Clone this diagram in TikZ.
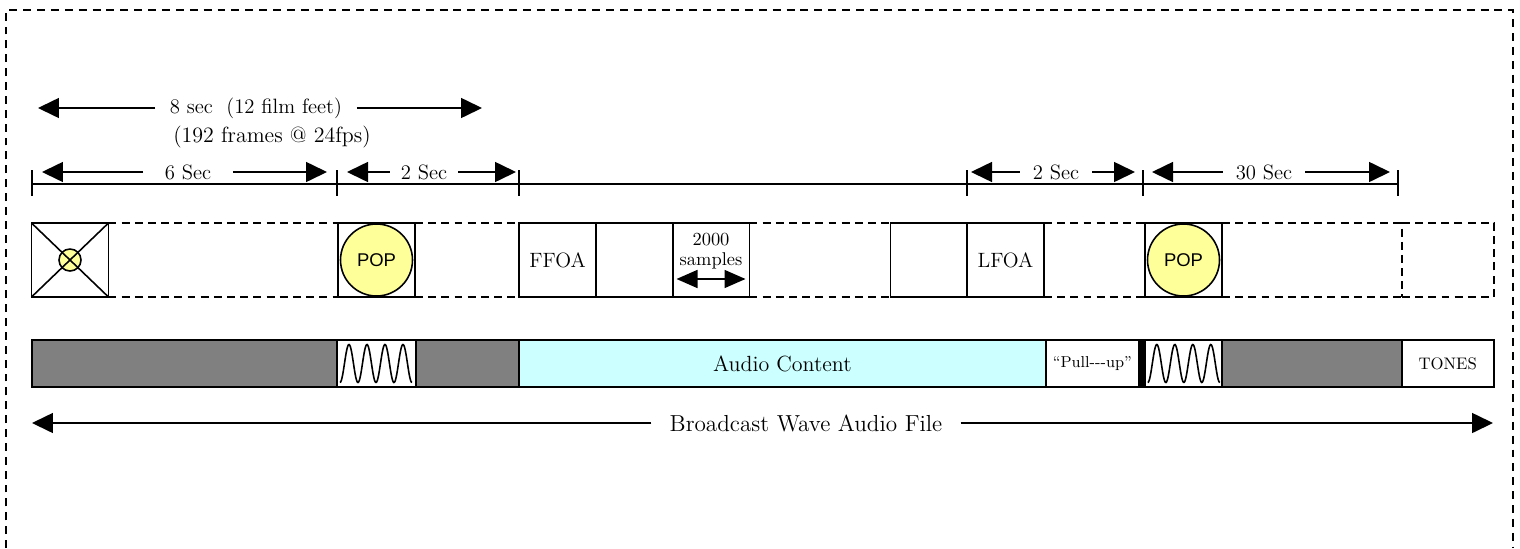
\documentclass[tikz,border=0pt]{standalone}
\usepackage{fontspec}
\newfontfamily\popfont{Liberation Sans}
\usetikzlibrary{arrows.meta,positioning}

\definecolor{popyellow}{RGB}{255,255,153}
\definecolor{audiocyan}{RGB}{204,255,255}
\definecolor{leadgray}{RGB}{128,128,128}

\tikzset{
  frm/.style={draw, minimum width=1.54cm, minimum height=1.48cm, inner sep=0pt, outer sep=0pt},
  bar/.style={draw, minimum height=0.94cm, inner sep=0pt, outer sep=0pt},
  dimarr/.style={-{Triangle[length=0.42cm,width=0.4cm]}},
  duoarr/.style={{Triangle[length=0.42cm,width=0.36cm]}-{Triangle[length=0.42cm,width=0.36cm]}},
  dimlbl/.style={inner ysep=0pt},
  popdot/.style={circle, draw, fill=popyellow, minimum size=1.44cm, inner sep=0pt, font=\popfont\fontsize{10.5}{12}\selectfont},
  rowdash/.style={dash pattern=on 4.5pt off 3pt},
  brd/.style={dash pattern=on 4.5pt off 3.4pt}
}

\begin{document}
\begin{tikzpicture}[x=0.02cm, y=-0.02cm, line width=0.9pt, font=\fontsize{11.8}{13}\selectfont]
	\useasboundingbox (0,0) rectangle (1520,548);
	\draw[brd] (6,548) -- (6,10) -- (1513,10) -- (1513,548);

	% 8 sec span
	\coordinate (eightL) at (38,108);
	\coordinate (eightR) at (482,108);
	\node[dimlbl, inner xsep=8pt] (eight) at (256,108) {8 sec\ \ (12 film feet)};
	\node[font=\fontsize{12.5}{13}\selectfont] (frames) at (272,137) {(192 frames @ 24fps)};
	\draw[dimarr] (eight) -- (eightL);
	\draw[dimarr] (eight) -- (eightR);

	% ruler
	\draw (32,184) -- (1398,184);
	\foreach \tx in {32,337,519,967,1143,1398}
		\draw (\tx,170) -- (\tx,196);

	% spans on the ruler
	\coordinate (sixL) at (42,172);
	\coordinate (sixR) at (327,172);
	\node[dimlbl, inner xsep=12pt] (six) at (188,172) {6 Sec};
	\draw[dimarr] (six) -- (sixL);
	\draw[dimarr] (six) -- (sixR);

	\coordinate (twoaL) at (347,172);
	\coordinate (twoaR) at (516,172);
	\node[dimlbl, inner xsep=6pt] (twoa) at (424,172) {2 Sec};
	\draw[dimarr] (twoa) -- (twoaL);
	\draw[dimarr] (twoa) -- (twoaR);

	\coordinate (twobL) at (971,172);
	\coordinate (twobR) at (1135,172);
	\node[dimlbl, inner xsep=7pt] (twob) at (1056,172) {2 Sec};
	\draw[dimarr] (twob) -- (twobL);
	\draw[dimarr] (twob) -- (twobR);

	\coordinate (thirtyL) at (1152,172);
	\coordinate (thirtyR) at (1390,172);
	\node[dimlbl, inner xsep=7pt] (thirty) at (1264,172) {30 Sec};
	\draw[dimarr] (thirty) -- (thirtyL);
	\draw[dimarr] (thirty) -- (thirtyR);

	% film frames
	\node[frm] (leader) at (70,260) {};
	\node[circle, draw, fill=popyellow, minimum size=0.44cm, inner sep=0pt] (leaddot) at (leader) {};
	\draw (leader.north west) -- (leader.south east) (leader.north east) -- (leader.south west);
	\node[frm] (pop1) at (376.5,260) {};
	\node[popdot] (popa) at (pop1) {POP};
	\node[frm] (ffoa) at (557.5,260) {FFOA};
	\node[frm] (blanka) at (634.5,260) {};
	\node[frm] (samp) at (711,260) {};
	\node[align=center, font=\fontsize{10.5}{11}\selectfont] (samptxt) at (711,251) {2000\\samples};
	\draw[duoarr] ([shift={(4,-18)}]samp.south west) -- ([shift={(-4,-18)}]samp.south east);
	\node[frm] (blankb) at (929,260) {};
	\node[frm] (lfoa) at (1005.5,260) {LFOA};
	\node[frm] (pop2) at (1183.5,260) {};
	\node[popdot] (popb) at (pop2) {POP};
	\node[frm, rowdash, minimum width=1.84cm] (tail) at (1448,260) {};
	\foreach \a/\b in {leader/pop1, pop1/ffoa, samp/blankb, lfoa/pop2, pop2/tail}
		\draw[rowdash] (\a.north east) -- (\b.north west) (\a.south east) -- (\b.south west);

	% audio file
	\node[bar, fill=leadgray, minimum width=6.1cm] (graya) at (184.5,363.5) {};
	\node[bar, right=0pt of graya, minimum width=1.58cm] (wavea) {};
	\node[bar, right=0pt of wavea, fill=leadgray, minimum width=2.06cm] (grayb) {};
	\node[bar, right=0pt of grayb, fill=audiocyan, minimum width=10.54cm, font=\fontsize{12.5}{13}\selectfont] (audio) {Audio Content};
	\node[bar, right=0pt of audio, minimum width=1.86cm, font=\fontsize{9}{10}\selectfont] (pull) {``Pull-{}-{}-up''};
	\node[bar, right=0pt of pull, fill=black, minimum width=0.12cm] (blk) {};
	\node[bar, right=0pt of blk, minimum width=1.54cm] (waveb) {};
	\node[bar, right=0pt of waveb, fill=leadgray, minimum width=3.6cm] (grayc) {};
	\node[bar, right=0pt of grayc, minimum width=1.84cm, font=\fontsize{9.5}{10}\selectfont] (tones) {TONES};
	\foreach \w in {wavea,waveb}
		\draw[shift={(\w.west)}] plot[domain=0:1440, samples=120, smooth] ({3+\x/1440*72}, {19*cos(\x)});

	% whole file
	\coordinate (bwfL) at (32,423);
	\coordinate (bwfR) at (1493,423);
	\node[dimlbl, inner xsep=10pt, font=\fontsize{13.2}{14}\selectfont] (bwf) at (806,423) {Broadcast Wave Audio File};
	\draw[dimarr] (bwf) -- (bwfL);
	\draw[dimarr] (bwf) -- (bwfR);
\end{tikzpicture}
\end{document}
